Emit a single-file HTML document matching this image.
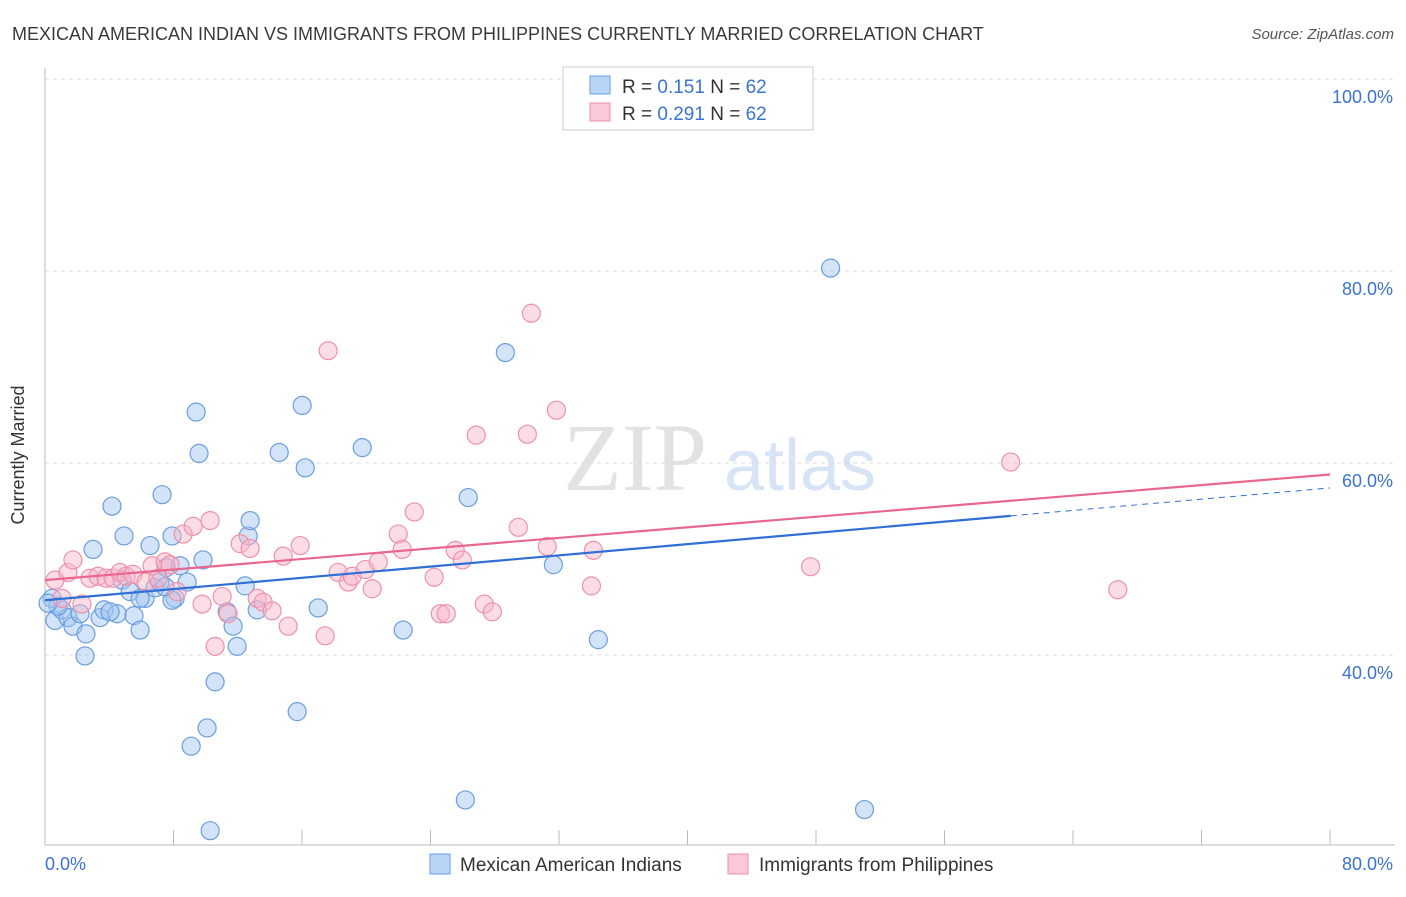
<!DOCTYPE html>
<html><head><meta charset="utf-8"><style>
body{margin:0;background:#fff;font-family:"Liberation Sans",sans-serif}
</style></head><body>
<svg width="1406" height="892" viewBox="0 0 1406 892" xmlns="http://www.w3.org/2000/svg">
<text x="12" y="40" font-size="18" fill="#3a3a3a">MEXICAN AMERICAN INDIAN VS IMMIGRANTS FROM PHILIPPINES CURRENTLY MARRIED CORRELATION CHART</text>
<text x="1394" y="39" font-size="15" fill="#555" font-style="italic" text-anchor="end">Source: ZipAtlas.com</text>
<text x="635" y="490" font-size="96" fill="#e2e2e2" font-family="Liberation Serif,serif" text-anchor="middle">ZIP</text>
<text x="800" y="490" font-size="72" fill="#d6e4f6" text-anchor="middle">atlas</text>
<g id="grid"></g>
<line x1="45" y1="68" x2="45" y2="845" stroke="#bbb"/>
<line x1="45" y1="845" x2="1395" y2="845" stroke="#bbb"/>
<text x="24" y="455" font-size="18" fill="#333" text-anchor="middle" transform="rotate(-90 24 455)">Currently Married</text>
<g id="marks"></g>
<g>
<rect x="563" y="67" width="250" height="63" fill="#fff" stroke="#ccc"/>
<rect x="590" y="76" width="20" height="18" fill="#b8d4f6" stroke="#6a9ee0"/>
<rect x="590" y="103" width="20" height="18" fill="#fac8d6" stroke="#f090aa"/>
<text x="622" y="93" font-size="19" fill="#333">R = <tspan fill="#3a74d0">0.151</tspan>   N = <tspan fill="#3a74d0">62</tspan></text>
<text x="622" y="120" font-size="19" fill="#333">R = <tspan fill="#3a74d0">0.291</tspan>   N = <tspan fill="#3a74d0">62</tspan></text>
</g>
<g>
<rect x="430" y="854" width="20" height="20" fill="#b8d4f6" stroke="#6a9ee0"/>
<text x="460" y="871" font-size="19" fill="#333">Mexican American Indians</text>
<rect x="728" y="854" width="20" height="20" fill="#fac8d6" stroke="#f090aa"/>
<text x="759" y="871" font-size="19" fill="#333">Immigrants from Philippines</text>
</g>
</svg>
<script>
const yTicks=[100,80,60,40];
const yTickLabels=["100.0%","80.0%","60.0%","40.0%"];
const xTickLabels=["0.0%","80.0%"];
const blueX=[0.44,0.62,1.06,1.43,1.74,2.18,2.55,2.49,2.99,3.43,3.68,4.17,4.49,4.80,4.92,5.30,5.54,5.92,6.23,6.54,6.85,7.16,7.29,7.54,7.91,8.10,8.41,8.85,9.10,9.41,9.59,9.84,10.09,10.28,10.59,11.34,11.71,11.96,12.46,12.65,12.77,13.21,14.58,15.70,16.01,16.20,17.01,19.75,22.30,26.17,26.35,28.66,31.65,34.45,48.91,51.02,7.91,4.05,0.81,0.19,5.92,7.48];
const blueY=[45.9,43.6,44.7,43.9,43.0,44.3,42.2,39.9,51.0,43.9,44.7,55.5,44.3,47.8,52.4,46.6,44.1,42.6,45.9,51.4,47.0,47.6,56.7,49.1,52.4,45.9,49.3,47.6,30.5,65.3,61.0,49.9,32.4,21.7,37.2,44.5,43.0,40.9,47.2,52.4,54.0,44.7,61.1,34.1,66.0,59.5,44.9,61.6,42.6,24.9,56.4,71.5,49.4,41.6,80.3,23.9,45.7,44.5,45.1,45.4,45.9,47.1];
const pinkX=[0.62,1.06,1.43,1.74,2.30,2.80,3.30,3.80,4.24,4.67,5.05,5.48,6.29,6.67,7.04,7.48,7.79,8.22,8.60,9.22,9.78,10.28,10.59,11.03,11.40,12.15,12.77,13.21,13.58,14.14,14.83,15.14,15.89,17.44,17.63,18.25,18.88,19.13,19.94,20.37,20.75,21.99,22.24,22.99,24.23,24.61,24.98,25.54,25.98,26.85,27.35,27.85,29.47,30.03,30.28,31.27,31.84,34.02,34.14,47.66,60.12,66.79];
const pinkY=[47.8,45.9,48.6,49.9,45.3,48.0,48.2,48.0,48.0,48.6,48.2,48.4,47.6,49.3,48.0,49.7,49.4,46.6,52.6,53.4,45.3,54.0,40.9,46.1,44.3,51.6,51.1,45.9,45.5,44.6,50.3,43.0,51.4,42.0,71.7,48.6,47.6,48.2,48.9,46.9,49.7,52.6,51.0,54.9,48.1,44.3,44.3,50.9,49.9,62.9,45.3,44.5,53.3,63.0,75.6,51.3,65.5,47.2,50.9,49.2,60.1,46.8];
const blueTrend=[45.7,57.4];
const pinkTrend=[47.8,58.8];
const blueSolidEnd=60.12;
const NS="http://www.w3.org/2000/svg";
const X=v=>45+v/80*1285, Y=v=>655-(v-40)*9.6;
function mk(t,a,p){const e=document.createElementNS(NS,t);for(const k in a)e.setAttribute(k,a[k]);p.appendChild(e);return e;}
const grid=document.getElementById('grid'),marks=document.getElementById('marks');
yTicks.forEach((t,i)=>{
 const l=mk('line',{x1:45,x2:1395,y1:Y(t),y2:Y(t),stroke:'#ddd','stroke-dasharray':'4,4'},grid);
 
 
 const tx=mk('text',{x:1393,y:Y(t)+24,'font-size':18,fill:'#3a74d0','text-anchor':'end'},grid);
 tx.textContent=yTickLabels[i];
 
 
});
for(let k=0;k<=10;k++){
 const l=mk('line',{x1:X(k*8),x2:X(k*8),y1:830,y2:845,stroke:'#bbb'},grid);
 
 
}
const xl0=mk('text',{x:45,y:870,'font-size':18,fill:'#3a74d0'},grid);xl0.textContent=xTickLabels[0];


const xl1=mk('text',{x:1393,y:870,'font-size':18,fill:'#3a74d0','text-anchor':'end'},grid);xl1.textContent=xTickLabels[1];


blueX.forEach((x,i)=>{const c=mk('circle',{cx:X(x),cy:Y(blueY[i]),r:9,fill:'rgba(160,196,240,0.45)',stroke:'#6a9ee0','stroke-width':1.2},marks);
 
 });
pinkX.forEach((x,i)=>{const c=mk('circle',{cx:X(x),cy:Y(pinkY[i]),r:9,fill:'rgba(248,180,200,0.45)',stroke:'#f090aa','stroke-width':1.2},marks);
 
 });
const bAt=v=>blueTrend[0]+(blueTrend[1]-blueTrend[0])*v/80;
const t1=mk('line',{x1:X(0),y1:Y(bAt(0)),x2:X(blueSolidEnd),y2:Y(bAt(blueSolidEnd)),stroke:'#2f6fd6','stroke-width':2.2},marks);


const t2=mk('line',{x1:X(blueSolidEnd),y1:Y(bAt(blueSolidEnd)),x2:X(80),y2:Y(bAt(80)),stroke:'#2f6fd6','stroke-width':1,'stroke-dasharray':'6,5'},marks);


const t3=mk('line',{x1:X(0),y1:Y(pinkTrend[0]),x2:X(80),y2:Y(pinkTrend[1]),stroke:'#e8678f','stroke-width':2.2},marks);


</script>
</body></html>
